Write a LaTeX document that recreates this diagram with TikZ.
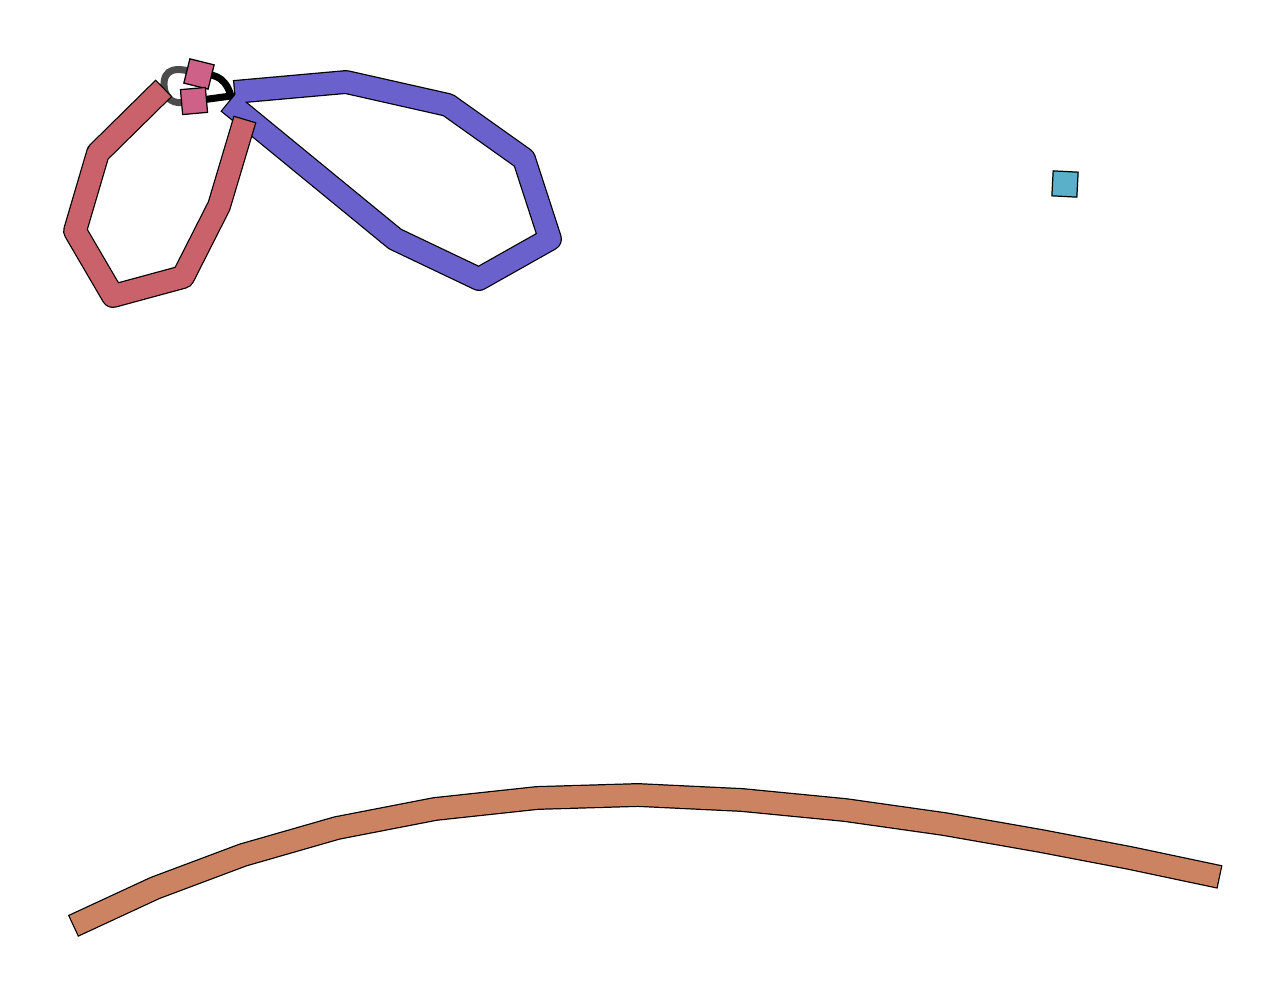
\documentclass[tikz,border=0pt]{standalone}
\usepackage{xcolor}
\definecolor{myred}{RGB}{201, 98, 106}
\definecolor{myblue}{RGB}{106, 97, 204}
\definecolor{myorange}{RGB}{203, 131, 97}
\definecolor{mypink}{RGB}{205, 97, 136}
\definecolor{mycyan}{RGB}{91, 176, 201}
\tikzset{
 outline/.style={line width=13.6pt, line join=round, color=black},
 body/.style={line width=12.2pt, line join=round, shorten <=0.7pt, shorten >=0.7pt},
 square/.style={draw=black, line width=0.7pt, minimum size=0.5cm, inner sep=0pt},
 edge/.style={line width=4pt, line cap=round},
}

\begin{document}
\begin{tikzpicture}[x=0.02cm, y=-0.02cm]
\useasboundingbox (0,0) rectangle (1284,1000);

 %red
 \coordinate (P1R) at (164,88);
 \coordinate (P2R) at (98,153);
 \coordinate (P3R) at (75,231);
 \coordinate (P4R) at (113,296);
 \coordinate (P5R) at (183,277);
 \coordinate (P6R) at (219,206);
 \coordinate (P7R) at (245,119);

 %blue
 \coordinate (P1B) at (234,92);
 \coordinate (P2B) at (346,82);
 \coordinate (P3B) at (448,105);
 \coordinate (P4B) at (524,159);
 \coordinate (P5B) at (550,239);
 \coordinate (P6B) at (479,279);
 \coordinate (P7B) at (395,239);
 \coordinate (P8B) at (228,102);

 %orange
 \coordinate (P1O) at (73,926);
 \coordinate (P2O) at (155,888);
 \coordinate (P3O) at (243,855);
 \coordinate (P4O) at (337,828);
 \coordinate (P5O) at (435,809);
 \coordinate (P6O) at (537,798);
 \coordinate (P7O) at (638,795);
 \coordinate (P8O) at (742,800);
 \coordinate (P9O) at (845,810);
 \coordinate (P10O) at (944,824);
 \coordinate (P11O) at (1041,841);
 \coordinate (P12O) at (1130,858);
 \coordinate (P13O) at (1220,877);

 %edges
 \coordinate (SQA) at (199,74);
 \coordinate (SQB) at (194,101);
 \coordinate (E1R) at (164,87);
 \coordinate (E1B) at (231,96);
 \draw[edge, color=black!70] (E1R) .. controls (163,68) and (176,66) .. (SQA);
 \draw[edge, color=black!70] (E1R) .. controls (167,105) and (179,104) .. (SQB);
 \draw[edge, color=black] (SQA) .. controls (219,73) and (227,82) .. (E1B);
 \draw[edge, color=black] (SQB) -- (E1B);

 \draw[outline] (P1B) -- (P2B) -- (P3B) -- (P4B) -- (P5B) -- (P6B) -- (P7B) -- (P8B);
 \draw[body, color=myblue] (P1B) -- (P2B) -- (P3B) -- (P4B) -- (P5B) -- (P6B) -- (P7B) -- (P8B);

 \draw[outline] (P1R) -- (P2R) -- (P3R) -- (P4R) -- (P5R) -- (P6R) -- (P7R);
 \draw[body, color=myred] (P1R) -- (P2R) -- (P3R) -- (P4R) -- (P5R) -- (P6R) -- (P7R);

 \draw[outline] (P1O) -- (P2O) -- (P3O) -- (P4O) -- (P5O) -- (P6O) -- (P7O) -- (P8O) -- (P9O) -- (P10O) -- (P11O) -- (P12O) -- (P13O);
 \draw[body, color=myorange] (P1O) -- (P2O) -- (P3O) -- (P4O) -- (P5O) -- (P6O) -- (P7O) -- (P8O) -- (P9O) -- (P10O) -- (P11O) -- (P12O) -- (P13O);

 \node[square, fill=mypink, rotate=-14] (pinkA) at (SQA) {};
 \node[square, fill=mypink, rotate=5] (pinkB) at (SQB) {};
 \node[square, fill=mycyan, rotate=-3] (cyanA) at (1065,184) {};

\end{tikzpicture}
\end{document}
